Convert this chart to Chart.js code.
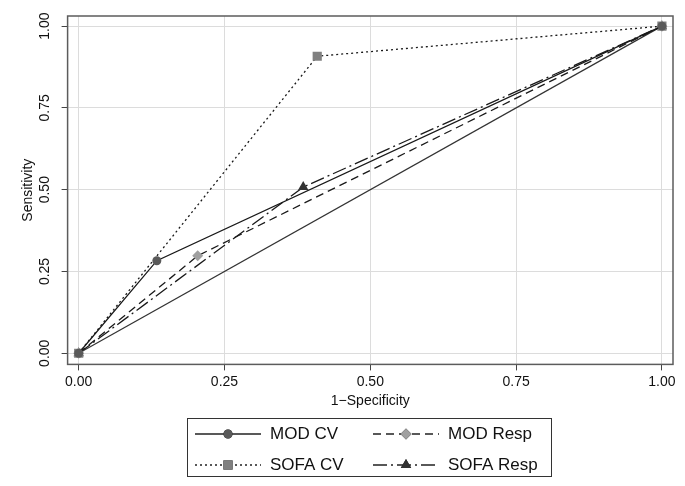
<!DOCTYPE html>
<html>
<head>
<meta charset="utf-8">
<script src="https://cdn.jsdelivr.net/npm/chart.js@4/dist/chart.umd.min.js"></script>
<style>
  html, body { margin: 0; padding: 0; background: #fff; }
  #wrap { width: 685px; height: 486px; }
</style>
</head>
<body>
<div id="wrap"><canvas id="roc"></canvas></div>
<script>
// points (1-Specificity, Sensitivity)
const modCvX   = [0, 0.134, 1];
const modCvY   = [0, 0.283, 1];
const modRespX = [0, 0.204, 1];
const modRespY = [0, 0.298, 1];
const sofaCvX  = [0, 0.409, 1];
const sofaCvY  = [0, 0.908, 1];
const sofaRespX = [0, 0.385, 1];
const sofaRespY = [0, 0.508, 1];
const refX = [0, 1];
const refY = [0, 1];

const tickValues = [0, 0.25, 0.5, 0.75, 1];
const seriesNames = ['MOD CV', 'MOD Resp', 'SOFA CV', 'SOFA Resp'];

function pts(xs, ys) {
    return xs.map((x, i) => ({ x: x, y: ys[i] }));
}

const FONT = 'Liberation Sans, Arial, sans-serif';

const series = [
    { label: seriesNames[0], data: pts(modCvX, modCvY), dash: [], style: 'circle', color: '#5a5a5a', radius: 4.5 },
    { label: seriesNames[1], data: pts(modRespX, modRespY), dash: [8, 5], style: 'rectRot', color: '#a0a0a0', radius: 5.5 },
    { label: seriesNames[2], data: pts(sofaCvX, sofaCvY), dash: [2, 3], style: 'rect', color: '#808080', radius: 6.5 },
    { label: seriesNames[3], data: pts(sofaRespX, sofaRespY), dash: [14, 4, 2, 4], style: 'triangle', color: '#333333', radius: 6 }
];

// frame around the plot + legend box under it
const framePlugin = {
    id: 'frame',
    afterDraw(chart) {
        const ctx = chart.ctx;
        const a = chart.chartArea;
        ctx.save();
        ctx.strokeStyle = '#5c5c5c';
        ctx.lineWidth = 1.5;
        ctx.strokeRect(a.left, a.top, a.right - a.left, a.bottom - a.top);

        // legend
        const bx = 187, by = 418, bw = 364, bh = 58;
        ctx.strokeStyle = '#333';
        ctx.lineWidth = 1;
        ctx.strokeRect(bx + 0.5, by + 0.5, bw, bh);
        const cols = [195, 373];
        const rows = [434, 465];
        ctx.font = '17px ' + FONT;
        ctx.textBaseline = 'middle';
        series.forEach((s, i) => {
            const x0 = cols[i % 2], y0 = rows[Math.floor(i / 2)];
            ctx.strokeStyle = '#222';
            ctx.lineWidth = 1.3;
            ctx.setLineDash(s.dash);
            ctx.beginPath();
            ctx.moveTo(x0, y0);
            ctx.lineTo(x0 + 66, y0);
            ctx.stroke();
            ctx.setLineDash([]);
            Chart.helpers.drawPoint(ctx, {
                pointStyle: s.style, radius: s.radius, rotation: 0, borderWidth: 0
            }, x0 + 33, y0);
            ctx.fillStyle = s.color;
            ctx.fill();
            ctx.fillStyle = '#111';
            ctx.fillText(s.label, x0 + 75, y0);
        });
        ctx.restore();
    }
};

const datasets = series.map(s => ({
    label: s.label,
    data: s.data,
    showLine: true,
    borderColor: '#1a1a1a',
    borderWidth: 1.3,
    borderDash: s.dash,
    pointStyle: s.style,
    pointRadius: s.radius,
    pointBackgroundColor: s.color,
    pointBorderColor: s.color,
    pointBorderWidth: 0,
    tension: 0
}));
datasets.push({
    label: 'Reference',
    data: pts(refX, refY),
    showLine: true,
    borderColor: '#333',
    borderWidth: 1.2,
    pointRadius: 0
});

new Chart(document.getElementById('roc'), {
    type: 'scatter',
    data: { datasets: datasets },
    options: {
        animation: false,
        responsive: true,
        maintainAspectRatio: false,
        layout: { padding: { left: 20, right: 12, top: 16, bottom: 76 } },
        plugins: {
            legend: { display: false },
            tooltip: { enabled: false }
        },
        scales: {
            x: {
                type: 'linear',
                min: -0.019,
                max: 1.019,
                afterBuildTicks: axis => { axis.ticks = tickValues.map(v => ({ value: v })); },
                ticks: {
                    font: { family: FONT, size: 14 },
                    color: '#111',
                    padding: 3,
                    callback: v => v.toFixed(2)
                },
                grid: { color: '#dcdcdc', lineWidth: 1, tickColor: '#444', tickLength: 6 },
                border: { display: false },
                title: {
                    display: true,
                    text: '1\u2212Specificity',
                    font: { family: FONT, size: 14 },
                    color: '#111',
                    padding: { top: 0, bottom: 0 }
                }
            },
            y: {
                type: 'linear',
                min: -0.034,
                max: 1.031,
                afterBuildTicks: axis => { axis.ticks = tickValues.map(v => ({ value: v })); },
                ticks: {
                    font: { family: FONT, size: 14 },
                    color: '#111',
                    minRotation: 90,
                    maxRotation: 90,
                    crossAlign: 'center',
                    padding: 3,
                    callback: v => v.toFixed(2)
                },
                grid: { color: '#dcdcdc', lineWidth: 1, tickColor: '#444', tickLength: 6 },
                border: { display: false },
                title: {
                    display: true,
                    text: 'Sensitivity',
                    font: { family: FONT, size: 14 },
                    color: '#111',
                    padding: { top: 0, bottom: 2 }
                }
            }
        }
    },
    plugins: [framePlugin]
});
</script>
</body>
</html>
